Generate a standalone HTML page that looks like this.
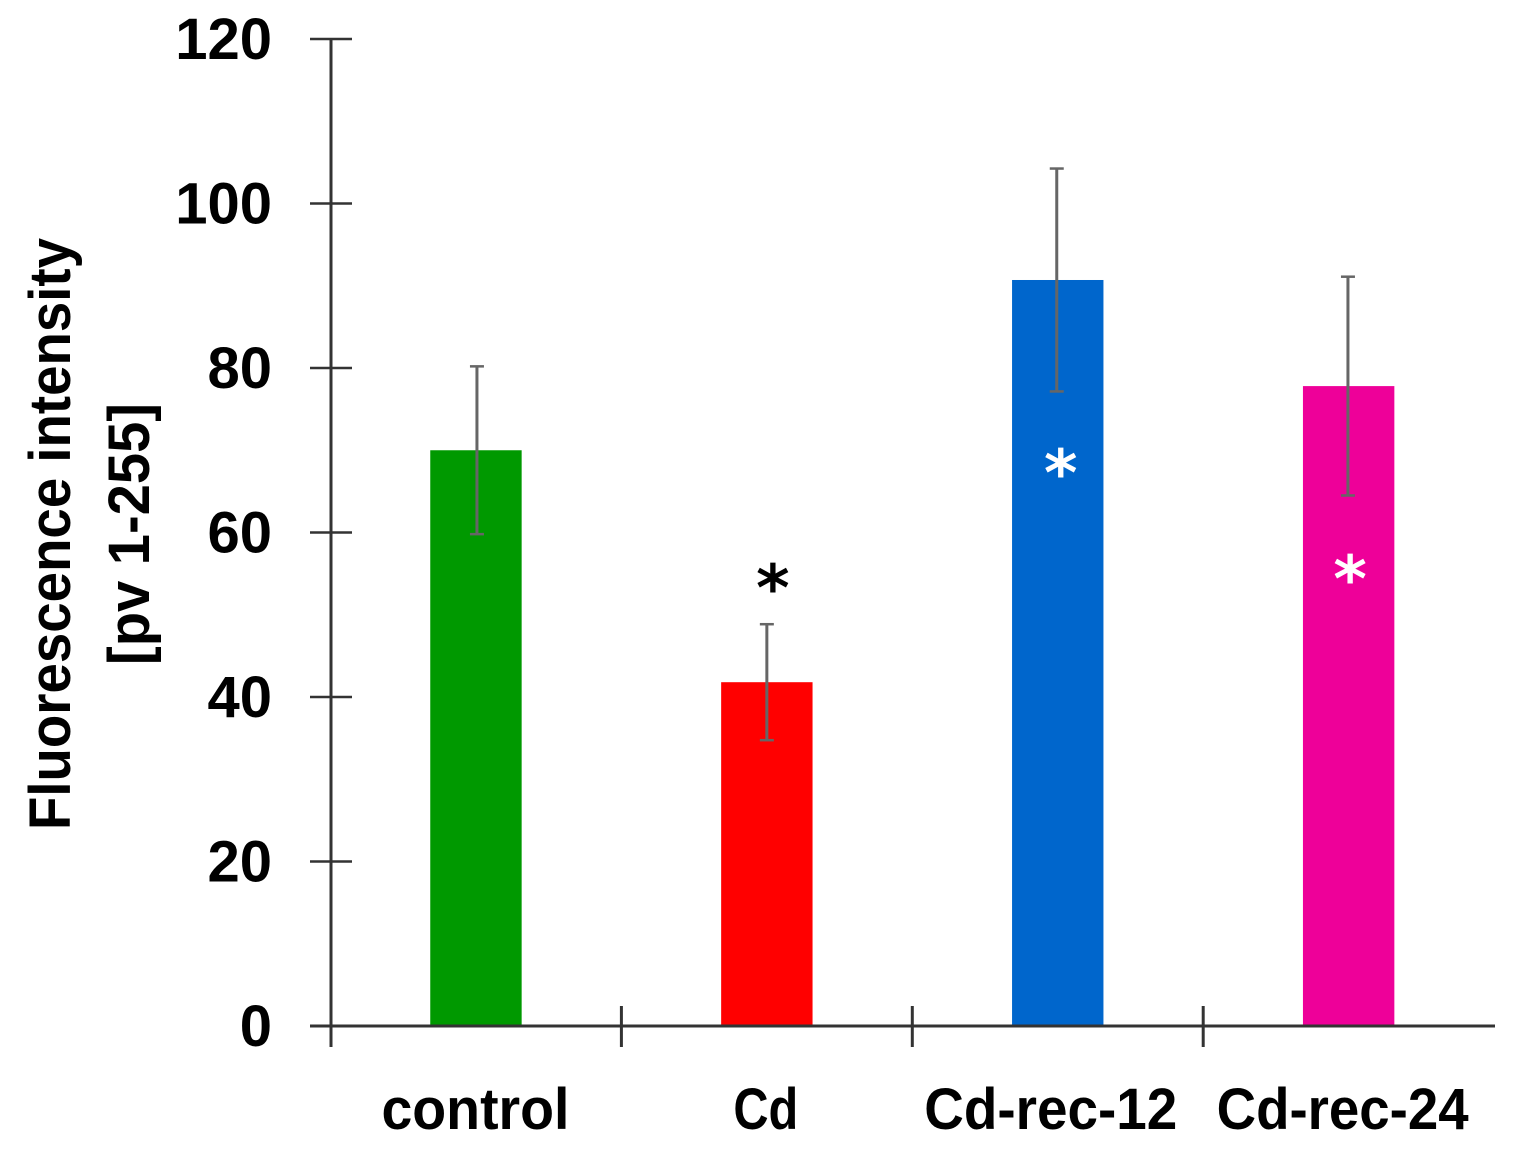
<!DOCTYPE html>
<html>
<head>
<meta charset="utf-8">
<style>
html,body{margin:0;padding:0;background:#fff;width:1517px;height:1157px;overflow:hidden}
svg{display:block}
text{font-family:"Liberation Sans",sans-serif;font-weight:bold;fill:#000}
</style>
</head>
<body>
<svg id="chart" width="1517" height="1157" viewBox="0 0 1517 1157" xmlns="http://www.w3.org/2000/svg"></svg>
<script>
const categories = ["control", "Cd", "Cd-rec-12", "Cd-rec-24"];
const means = [70, 41.8, 90.7, 77.8];
const errors = [10.2, 7.05, 13.55, 13.3];
const colors = ["#009900", "#ff0000", "#0066cc", "#ee0099"];
const yTicks = [0, 20, 40, 60, 80, 100, 120];
const stars = [null, 54.5, 68.5, 55.6];

const svg = document.getElementById('chart');
const NS = 'http://www.w3.org/2000/svg';
const y = v => 1026 - (v / 120) * 987;
const bandW = 290.9;
const x0 = 330.5;
const xc = i => x0 + bandW * (i + 0.5);
const errorOffset = i => [1, 0, -1, -0.7][i];
const starOffset = i => [0, 6, 3, 1.5][i];
const labelOffset = i => [-0.5, -1, -7, -6][i];
const labelFit = i => [188, 65, 253, 252][i];

function mk(tag, attrs, txt) {
  const e = document.createElementNS(NS, tag);
  for (const k in attrs) e.setAttribute(k, attrs[k]);
  if (txt !== undefined) e.textContent = txt;
  svg.appendChild(e);
  return e;
}

categories.forEach((c, i) => {
  const bar = mk('rect', {x: xc(i) - 45.7, y: y(means[i]), width: 91.4, height: y(0) - y(means[i]), fill: colors[i]});
  
  
});

const yAxis = mk('line', {x1: 331, x2: 331, y1: y(120), y2: 1047, stroke: '#333', 'stroke-width': 3});


const xAxis = mk('line', {x1: 310, x2: 1495, y1: y(0), y2: y(0), stroke: '#333', 'stroke-width': 3});



yTicks.forEach(t => {
  const tick = mk('line', {x1: 310, x2: 352, y1: y(t), y2: y(t), stroke: '#333', 'stroke-width': 2.5});
  
  
  const label = mk('text', {x: 272, y: y(t) + 20, 'text-anchor': 'end', 'font-size': 58}, t);
  
  
});

categories.forEach((c, i) => {
  if (i < categories.length - 1) {
    const sx = x0 + bandW * (i + 1);
    const sep = mk('line', {x1: sx, x2: sx, y1: 1006, y2: 1047, stroke: '#333', 'stroke-width': 3});
    
    
  }
  const label = mk('text', {x: xc(i) + labelOffset(i), y: 1129, 'text-anchor': 'middle', 'font-size': 58, textLength: labelFit(i), lengthAdjust: 'spacingAndGlyphs'}, c);
  
  
});

categories.forEach((c, i) => {
  const hi = y(means[i] + errors[i]);
  const lo = y(means[i] - errors[i]);
  const ex = xc(i) + errorOffset(i);
  const stem = mk('line', {x1: ex, x2: ex, y1: hi, y2: lo, stroke: '#666', 'stroke-width': 3});
  
  
  [hi, lo].forEach(p => {
    const cap = mk('line', {x1: ex - 7, x2: ex + 7, y1: p, y2: p, stroke: '#666', 'stroke-width': 2.5});
    
    
  });
});

stars.forEach((s, i) => {
  if (s === null) return;
  const st = mk('text', {x: xc(i) + starOffset(i), y: y(s) + 33, 'text-anchor': 'middle', 'font-size': 64}, '*');
  st.setAttribute('style', 'font-family:"DejaVu Sans",sans-serif;fill:' + (i === 1 ? '#000' : '#fff'));
  
  
});

const t1 = mk('text', {transform: 'translate(70,534) rotate(-90)', 'text-anchor': 'middle', 'font-size': 58, textLength: 592, lengthAdjust: 'spacingAndGlyphs'}, 'Fluorescence intensity');


const t2 = mk('text', {transform: 'translate(149,534) rotate(-90)', 'text-anchor': 'middle', 'font-size': 58, textLength: 262, lengthAdjust: 'spacingAndGlyphs'}, '[pv 1-255]');


</script>
</body>
</html>
